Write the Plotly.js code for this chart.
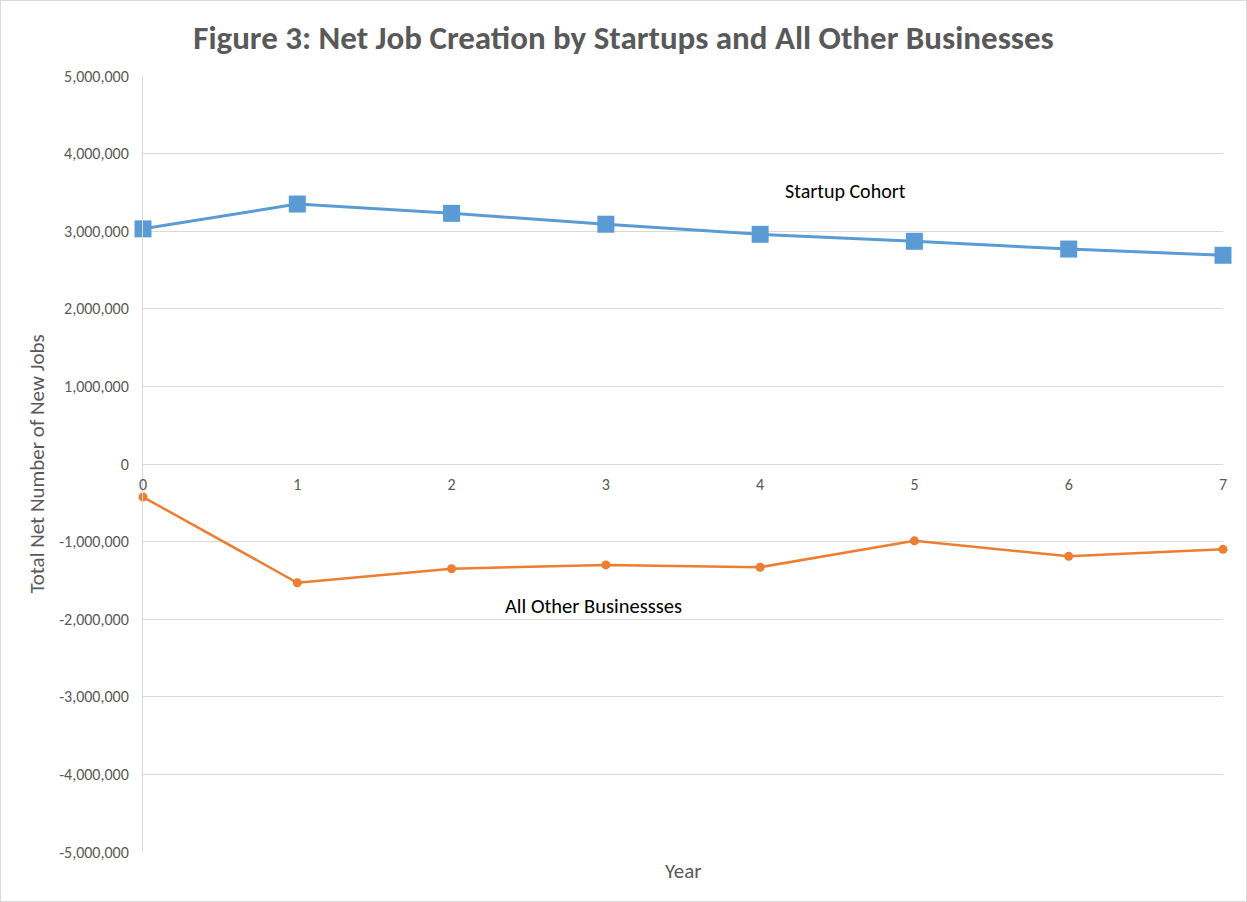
<!DOCTYPE html>
<html>
<head>
<meta charset="utf-8">
<script src="https://cdn.plot.ly/plotly-3.0.1.min.js"></script>
<style>
html,body{margin:0;padding:0;background:#fff;}
#chart{width:1245px;height:900px;border:1px solid #d9d9d9;}
</style>
</head>
<body>
<div id="chart"></div>
<script>
const years = [0, 1, 2, 3, 4, 5, 6, 7];
const startupCohort = [3030000, 3350000, 3230000, 3090000, 2960000, 2870000, 2770000, 2690000];
const allOtherBusinesses = [-425000, -1530000, -1350000, -1300000, -1330000, -990000, -1190000, -1100000];
const yTickVals = [5000000, 4000000, 3000000, 2000000, 1000000, 0, -1000000, -2000000, -3000000, -4000000, -5000000];
const yTickText = ["5,000,000","4,000,000","3,000,000","2,000,000","1,000,000","0","-1,000,000","-2,000,000","-3,000,000","-4,000,000","-5,000,000"];

const font = "Carlito, 'Open Sans', 'Liberation Sans', sans-serif";

const traces = [
  {
    x: years, y: startupCohort, type: 'scatter', mode: 'lines+markers',
    name: 'Startup Cohort',
    line: {color: '#5B9BD5', width: 3},
    marker: {symbol: 'square', size: 17, color: '#5B9BD5'},
    cliponaxis: false
  },
  {
    x: years, y: allOtherBusinesses, type: 'scatter', mode: 'lines+markers',
    name: 'All Other Businessses',
    line: {color: '#ED7D31', width: 2.5},
    marker: {symbol: 'circle', size: 9, color: '#ED7D31'},
    cliponaxis: false
  }
];

const layout = {
  width: 1245, height: 900,
  margin: {l: 142, r: 23, t: 75, b: 49},
  paper_bgcolor: '#fff', plot_bgcolor: '#fff',
  showlegend: false,
  font: {family: font, color: '#595959'},
  title: {
    text: '<b>Figure 3: Net Job Creation by Startups and All Other Businesses</b>',
    font: {size: 33, color: '#595959', family: font},
    x: 0.5, xanchor: 'center', y: 0.96, yanchor: 'middle'
  },
  xaxis: {
    range: [0, 7],
    tickvals: years,
    ticktext: years.map(String),
    showgrid: false, zeroline: false, showline: false,
    anchor: 'free', position: 0.5,
    ticks: 'outside', ticklen: 6, tickcolor: 'rgba(0,0,0,0)',
    tickfont: {size: 16, color: '#595959', family: font}
  },
  yaxis: {
    range: [-5000000, 5000000],
    tickvals: yTickVals, ticktext: yTickText,
    showgrid: true, gridcolor: '#d9d9d9', gridwidth: 1,
    zeroline: true, zerolinecolor: '#d9d9d9', zerolinewidth: 1,
    showline: true, linecolor: '#d9d9d9', linewidth: 1,
    ticks: 'outside', ticklen: 10, tickcolor: 'rgba(0,0,0,0)',
    tickfont: {size: 16, color: '#595959', family: font},
    title: {text: 'Total Net Number of New Jobs', font: {size: 21, color: '#595959', family: font}, standoff: 8}
  },
  annotations: [
    {text: 'Year', xref: 'paper', yref: 'paper', x: 0.5, y: -0.0245, xanchor: 'center', yanchor: 'middle', showarrow: false,
     font: {size: 21, color: '#595959', family: font}},
    {text: 'Startup Cohort', xref: 'x', yref: 'y', x: 4.55, y: 3520000, xanchor: 'center', yanchor: 'middle', showarrow: false,
     font: {size: 20, color: '#000', family: font}},
    {text: 'All Other Businessses', xref: 'x', yref: 'y', x: 2.92, y: -1830000, xanchor: 'center', yanchor: 'middle', showarrow: false,
     font: {size: 20.5, color: '#000', family: font}}
  ]
};

Plotly.newPlot('chart', traces, layout, {displayModeBar: false, staticPlot: true});
</script>
</body>
</html>
